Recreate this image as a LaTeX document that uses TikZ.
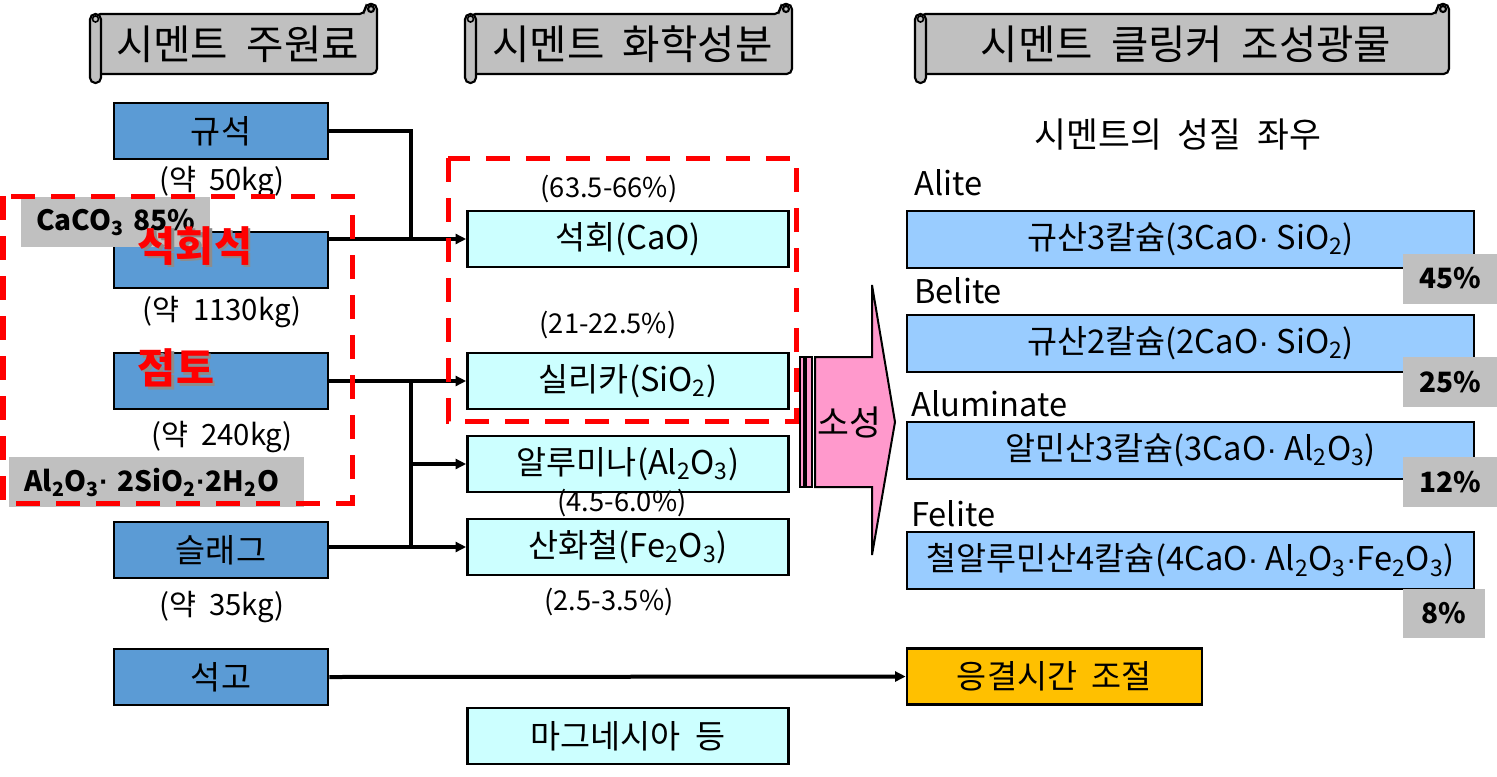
\documentclass[tikz,border=0pt]{standalone}
\usepackage{fontspec}
\setmainfont{Noto Sans CJK KR}
\newfontfamily\latf{Liberation Sans}
\usetikzlibrary{arrows.meta}
\definecolor{blu}{HTML}{5B9BD5}
\definecolor{cyn}{HTML}{CCFFFF}
\definecolor{lbl}{HTML}{99CCFF}
\definecolor{gry}{HTML}{C0C0C0}
\definecolor{pnk}{HTML}{FF99CC}
\definecolor{gld}{HTML}{FFC000}
\newcommand\fsbox{\fontsize{24.5pt}{29pt}\selectfont}
\newcommand\fslab{\fontsize{20.5pt}{24pt}\selectfont}
\newcommand\fswt{\fontsize{22pt}{26pt}\selectfont}
\newcommand\fshdr{\fontsize{30.5pt}{36pt}\selectfont}
\newcommand\fsred{\fontsize{31pt}{36pt}\selectfont}
\newcommand\fspct{\fontsize{21pt}{25pt}\selectfont}
\newcommand\wsp{\hspace{0.45em}}
\newcommand\md{{\latf ·}}
\newcommand\scrollhdr[4]{%
  \filldraw[hdr,rounded corners=4] (#1+5,14) -- (#2-10,14) -- (#2-10,4) -- (#2+2,4) -- (#2+2,74) -- (#1+5,74) -- cycle;
  \filldraw[hdr] (#2-4,9) circle (3);
  \filldraw[hdr,rounded corners=4] (#1,14) rectangle (#1+11,83);
  \draw[line width=1.2pt] (#1+5.5,19) circle (3);
  \node[hdrtxt] (#3) at ({(#1+#2)/2+5},44) {#4};
}
\begin{document}
\begin{tikzpicture}[x=0.75pt,y=-0.75pt,
  bx/.style={draw=black,line width=2pt,inner sep=0pt,font=\fsbox},
  src/.style={bx,fill=blu,minimum width=160.5pt,minimum height=42pt},
  chem/.style={bx,fill=cyn,minimum width=240.75pt,minimum height=42pt},
  mine/.style={bx,fill=lbl,minimum width=425.25pt,minimum height=42.75pt},
  pct/.style={fill=gry,inner sep=0pt,font=\fspct\bfseries,minimum width=70.5pt,minimum height=37.5pt},
  lab/.style={inner sep=0pt,font=\fslab},
  wt/.style={inner sep=0pt,font=\fswt},
  lab2/.style={inner sep=0pt,font=\fsbox},
  hdrtxt/.style={inner sep=0pt,font=\fshdr},
  conn/.style={draw=black,line width=3pt},
  arr/.style={conn,-{Triangle[length=8pt,width=7.5pt]}},
  reddash/.style={draw=red,line width=3.75pt,dash pattern=on 18pt off 12pt},
  hdr/.style={draw=black,line width=1.6pt,fill=gry},
  redtxt/.style={inner sep=0pt,font=\fsred\bfseries,text=red},
  graybox/.style={fill=gry,inner ysep=0pt,inner xsep=11.25pt,align=left,font=\fspct\bfseries,minimum height=37.5pt,anchor=north west},
  pink/.style={fill=pnk,draw=black,line width=1.5pt},
]
\useasboundingbox (0,0) rectangle (1497,776);

% headers
\scrollhdr{90}{375}{h1}{시멘트\wsp 주원료}
\scrollhdr{465}{790}{h2}{시멘트\wsp 화학성분}
\scrollhdr{915}{1447}{h3}{시멘트\wsp 클링커\wsp 조성광물}

% raw materials
\node[src] (quartz) at (221,131) {규석};
\node[src] (limestone) at (221,260) {};
\node[src] (clay) at (221,381) {};
\node[src] (slag) at (221,550) {슬래그};
\node[src] (gypsum) at (221,677) {석고};
\node[wt] (w1) at (222,182) {(약\wsp 50kg)};
\node[wt] (w2) at (222,312) {(약\wsp 1130kg)};
\node[wt] (w3) at (222,437) {(약\wsp 240kg)};
\node[wt] (w4) at (222,607) {(약\wsp 35kg)};

% gray formula labels
\node[graybox,text width=119.25pt] (caco) at (21,197) {\mbox{CaCO\textsubscript{3} 85\%}};
\node[graybox,text width=198.75pt] (clayf) at (9,457) {\mbox{Al\textsubscript{2}O\textsubscript{3}\md\ 2SiO\textsubscript{2}\md 2H\textsubscript{2}O}};

% red names with shadow
\node[redtxt,text=black!45] at (197.5,248.5) {석회석};
\node[redtxt] (lsname) at (195,246) {석회석};
\node[redtxt,text=black!45] at (178.5,370.5) {점토};
\node[redtxt] (clname) at (176,368) {점토};

% chemical components
\node[chem] (cao) at (628,239) {석회(CaO)};
\node[chem] (sio) at (628,381) {실리카(SiO\textsubscript{2})};
\node[chem] (alo) at (628,464) {알루미나(Al\textsubscript{2}O\textsubscript{3})};
\node[chem] (feo) at (628,547) {산화철(Fe\textsubscript{2}O\textsubscript{3})};
\node[chem] (mgo) at (628,736) {마그네시아\wsp 등};
\node[lab] (p1) at (609,189) {(63.5-66\%)};
\node[lab] (p2) at (608,325) {(21-22.5\%)};
\node[lab] (p3) at (622,503) {(4.5-6.0\%)};
\node[lab] (p4) at (609,602) {(2.5-3.5\%)};

% connectors
\coordinate (jA) at (411,239);
\coordinate (jB) at (411,547);
\draw[conn] (quartz.east) -| (jA);
\draw[arr] (limestone.east |- cao.west) -- (cao.west);
\draw[arr] (clay.east |- sio.west) -- (sio.west);
\draw[conn] (jB |- sio.west) -- (jB);
\draw[arr] (jB |- alo.west) -- (alo.west);
\draw[arr] (slag.east |- feo.west) -- (feo.west);

% firing arrow
\filldraw[pink] (800,357) rectangle (804,487);
\filldraw[pink] (806,357) rectangle (812,487);
\filldraw[pink] (815,357) -- (872,357) -- (872,285) -- (895,422) -- (872,555) -- (872,487) -- (815,487) -- cycle;
\node[inner sep=0pt,font=\fontsize{26pt}{30pt}\selectfont] (fire) at (849,422) {소성};

% clinker minerals
\node[inner sep=0pt,font=\fontsize{26pt}{30pt}\selectfont] (prop) at (1178,135) {시멘트의\wsp 성질\wsp 좌우};
\node[lab2,anchor=west] (l1) at (914,183) {Alite};
\node[lab2,anchor=west] (l2) at (914,291) {Belite};
\node[lab2,anchor=west] (l3) at (911,404) {Aluminate};
\node[lab2,anchor=west] (l4) at (911,514) {Felite};
\node[mine] (alite) at (1190.5,239.5) {규산3칼슘(3CaO\md\ SiO\textsubscript{2})};
\node[mine] (belite) at (1190.5,343.5) {규산2칼슘(2CaO\md\ SiO\textsubscript{2})};
\node[mine] (alum) at (1190.5,450.5) {알민산3칼슘(3CaO\md\ Al\textsubscript{2}O\textsubscript{3})};
\node[mine] (fel) at (1190.5,560.5) {철알루민산4칼슘(4CaO\md\ Al\textsubscript{2}O\textsubscript{3}\md Fe\textsubscript{2}O\textsubscript{3})};
\node[pct] (q1) at (1450,278.5) {45\%};
\node[pct] (q2) at (1450,382) {25\%};
\node[pct] (q3) at (1450,482) {12\%};
\node[pct,minimum width=61.5pt,minimum height=36.75pt] (q4) at (1444,613.5) {8\%};

% setting time
\node[bx,fill=gld,minimum width=221.25pt,minimum height=42pt] (set) at (1054.5,676.5) {응결시간\wsp 조절};
\draw[arr] (gypsum.east) -- (set.west);

% red dashed groups
\draw[reddash] (3,196) rectangle (352,503);
\draw[reddash] (448,158) rectangle (796,421);
\end{tikzpicture}
\end{document}
